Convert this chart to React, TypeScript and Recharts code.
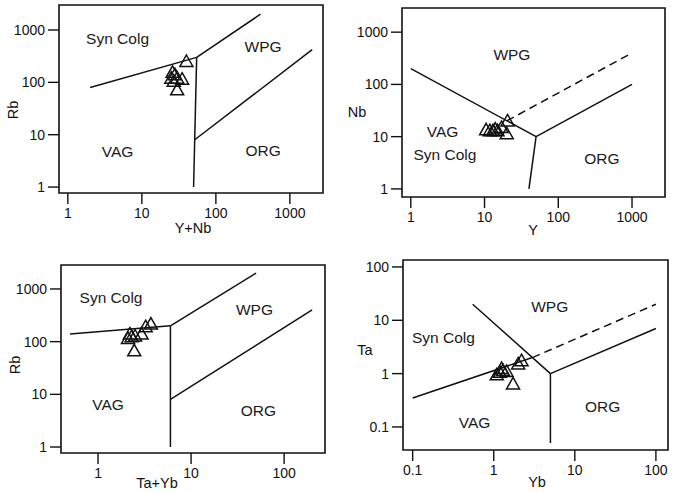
import { ScatterChart, Scatter, XAxis, YAxis, ReferenceLine, ReferenceArea, Label } from 'recharts';

const FONT = '"Liberation Sans", Arial, sans-serif';
const INK = '#111';

// Rb vs Y+Nb
const rbYnbX = [40, 26, 28, 25, 27, 30, 35, 30];
const rbYnbY = [250, 155, 140, 120, 105, 120, 115, 72];
// Nb vs Y
const nbYX = [20.5, 20, 13, 15, 11.8, 17, 10.5, 14];
const nbYY = [20, 11.4, 13, 13, 13, 15, 13.5, 14];
// Rb vs Ta+Yb
const rbTaYbX = [3.7, 3.25, 2.94, 2.3, 2.1, 2.5, 2.2, 2.45];
const rbTaYbY = [216, 192, 139, 124, 115, 128, 140, 67];
// Ta vs Yb
const taYbX = [2.2, 2.0, 1.3, 1.19, 1.44, 1.09, 1.25, 1.73];
const taYbY = [1.75, 1.52, 1.14, 1.06, 1.1, 0.95, 1.25, 0.64];

type Seg = [number, number, number, number];

// boundary lines [x1, y1, x2, y2]
const rbYnbLines: Seg[] = [[2, 80, 55, 300], [55, 300, 400, 2000], [55, 300, 50, 1], [51.8, 8, 2000, 420]];
const nbYLines: Seg[] = [[1, 200, 50, 10], [50, 10, 1000, 100], [50, 10, 40, 1]];
const nbYDashed: Seg[] = [[20, 20, 1000, 400]];
const rbTaYbLines: Seg[] = [[0.5, 140, 6, 200], [6, 200, 50, 2000], [6, 200, 6, 1], [6, 8, 200, 400]];
const taYbLines: Seg[] = [[0.1, 0.35, 3, 2], [0.55, 20, 5, 1], [5, 1, 5, 0.05], [5, 1, 100, 7]];
const taYbDashed: Seg[] = [[3, 2, 100, 20]];

// field names
const rbYnbRegions = [
  { x: 4.7, y: 700, name: 'Syn Colg' },
  { x: 435, y: 490, name: 'WPG' },
  { x: 4.7, y: 4.7, name: 'VAG' },
  { x: 435, y: 4.9, name: 'ORG' },
];
const nbYRegions = [
  { x: 23.5, y: 380, name: 'WPG' },
  { x: 2.7, y: 12.5, name: 'VAG' },
  { x: 2.9, y: 4.5, name: 'Syn Colg' },
  { x: 390, y: 3.8, name: 'ORG' },
];
const rbTaYbRegions = [
  { x: 1.38, y: 700, name: 'Syn Colg' },
  { x: 48, y: 400, name: 'WPG' },
  { x: 1.28, y: 6.3, name: 'VAG' },
  { x: 53, y: 5, name: 'ORG' },
];
const taYbRegions = [
  { x: 4.9, y: 18, name: 'WPG' },
  { x: 0.24, y: 4.7, name: 'Syn Colg' },
  { x: 0.58, y: 0.12, name: 'VAG' },
  { x: 22, y: 0.24, name: 'ORG' },
];

const Tri = (p: any) => {
  const { cx, cy } = p;
  return (
    <path
      d={`M${cx},${cy - 6.5} L${cx + 6.5},${cy + 5} L${cx - 6.5},${cy + 5} Z`}
      fill="none"
      stroke={INK}
      strokeWidth={1.5}
    />
  );
};

const RegionText = (p: any) => (
  <text
    x={p.cx}
    y={p.cy}
    textAnchor="middle"
    dominantBaseline="central"
    fontSize={15.5}
    fontFamily={FONT}
    fill="#1a1a1a"
  >
    {p.payload.name}
  </text>
);

interface PanelProps {
  left: number;
  top: number;
  width: number;
  height: number;
  margin: { top: number; right: number; bottom: number; left: number };
  xAxisHeight: number;
  xDomain: [number, number];
  yDomain: [number, number];
  xTicks: number[];
  yTicks: number[];
  xs: number[];
  ys: number[];
  solid: Seg[];
  dashed?: Seg[];
  regions: { x: number; y: number; name: string }[];
  xTitle: string;
  yTitle: string;
  xTitlePos: [number, number];
  yTitlePos: [number, number];
  yRotate: boolean;
}

const Panel = (props: PanelProps) => {
  const points = props.xs.map((x, i) => ({ x, y: props.ys[i] }));
  const tick = { fontSize: 14, fontFamily: FONT, fill: INK };
  const [xtx, xty] = props.xTitlePos;
  const [ytx, yty] = props.yTitlePos;
  return (
    <div style={{ position: 'absolute', left: props.left, top: props.top }}>
      <ScatterChart width={props.width} height={props.height} margin={props.margin}>
        <XAxis
          type="number"
          dataKey="x"
          scale="log"
          domain={props.xDomain}
          allowDataOverflow
          ticks={props.xTicks}
          interval={0}
          height={props.xAxisHeight}
          axisLine={false}
          tickLine={{ stroke: INK, strokeWidth: 1.4 }}
          tickSize={11}
          tickMargin={4}
          tick={tick}
        >
          <Label
            content={() => (
              <text x={xtx} y={xty} textAnchor="middle" dominantBaseline="central" fontSize={14.5} fontFamily={FONT} fill={INK}>
                {props.xTitle}
              </text>
            )}
          />
        </XAxis>
        <YAxis
          type="number"
          dataKey="y"
          scale="log"
          domain={props.yDomain}
          allowDataOverflow
          ticks={props.yTicks}
          interval={0}
          width={45}
          axisLine={false}
          tickLine={{ stroke: INK, strokeWidth: 1.4 }}
          tickSize={11}
          tickMargin={3}
          tick={tick}
        >
          <Label
            content={() => (
              <text
                x={ytx}
                y={yty}
                textAnchor="middle"
                dominantBaseline="central"
                fontSize={14.5}
                fontFamily={FONT}
                fill={INK}
                transform={props.yRotate ? `rotate(-90 ${ytx} ${yty})` : undefined}
              >
                {props.yTitle}
              </text>
            )}
          />
        </YAxis>
        <ReferenceArea
          x1={props.xDomain[0]}
          x2={props.xDomain[1]}
          y1={props.yDomain[0]}
          y2={props.yDomain[1]}
          fill="none"
          stroke={INK}
          strokeWidth={1.6}
          ifOverflow="visible"
        />
        {props.solid.map((s, i) => (
          <ReferenceLine
            key={`s${i}`}
            segment={[{ x: s[0], y: s[1] }, { x: s[2], y: s[3] }]}
            stroke={INK}
            strokeWidth={1.5}
            ifOverflow="visible"
          />
        ))}
        {(props.dashed || []).map((s, i) => (
          <ReferenceLine
            key={`d${i}`}
            segment={[{ x: s[0], y: s[1] }, { x: s[2], y: s[3] }]}
            stroke={INK}
            strokeWidth={1.5}
            strokeDasharray="8 5"
            ifOverflow="visible"
          />
        ))}
        <Scatter data={props.regions} shape={RegionText} isAnimationActive={false} />
        <Scatter data={points} shape={Tri} isAnimationActive={false} />
      </ScatterChart>
    </div>
  );
};

export default function App() {
  return (
    <div style={{ position: 'absolute', left: 0, top: 0, width: 678, height: 492, background: '#fff', overflow: 'hidden' }}>
      <Panel
        left={0}
        top={0}
        width={340}
        height={245}
        margin={{ top: 5, right: 17, bottom: 7, left: 14 }}
        xAxisHeight={45}
        xDomain={[0.76, 2800]}
        yDomain={[0.77, 3000]}
        xTicks={[1, 10, 100, 1000]}
        yTicks={[1, 10, 100, 1000]}
        xs={rbYnbX}
        ys={rbYnbY}
        solid={rbYnbLines}
        regions={rbYnbRegions}
        xTitle="Y+Nb"
        yTitle="Rb"
        xTitlePos={[193, 228]}
        yTitlePos={[13, 110]}
        yRotate
      />
      <Panel
        left={340}
        top={0}
        width={338}
        height={245}
        margin={{ top: 8, right: 13, bottom: 6, left: 17 }}
        xAxisHeight={42}
        xDomain={[0.76, 2800]}
        yDomain={[0.7, 2900]}
        xTicks={[1, 10, 100, 1000]}
        yTicks={[1, 10, 100, 1000]}
        xs={nbYX}
        ys={nbYY}
        solid={nbYLines}
        dashed={nbYDashed}
        regions={nbYRegions}
        xTitle="Y"
        yTitle="Nb"
        xTitlePos={[193, 230]}
        yTitlePos={[17, 112]}
        yRotate={false}
      />
      <Panel
        left={0}
        top={242}
        width={340}
        height={250}
        margin={{ top: 23, right: 15, bottom: 3, left: 16 }}
        xAxisHeight={36}
        xDomain={[0.4, 275]}
        yDomain={[0.77, 2850]}
        xTicks={[1, 10, 100]}
        yTicks={[1, 10, 100, 1000]}
        xs={rbTaYbX}
        ys={rbTaYbY}
        solid={rbTaYbLines}
        regions={rbTaYbRegions}
        xTitle="Ta+Yb"
        yTitle="Rb"
        xTitlePos={[157, 241]}
        yTitlePos={[15, 123]}
        yRotate
      />
      <Panel
        left={340}
        top={242}
        width={338}
        height={250}
        margin={{ top: 18, right: 10, bottom: 4, left: 18 }}
        xAxisHeight={38}
        xDomain={[0.076, 141]}
        yDomain={[0.037, 135]}
        xTicks={[0.1, 1, 10, 100]}
        yTicks={[0.1, 1, 10, 100]}
        xs={taYbX}
        ys={taYbY}
        solid={taYbLines}
        dashed={taYbDashed}
        regions={taYbRegions}
        xTitle="Yb"
        yTitle="Ta"
        xTitlePos={[197, 240]}
        yTitlePos={[25, 108]}
        yRotate={false}
      />
    </div>
  );
}
